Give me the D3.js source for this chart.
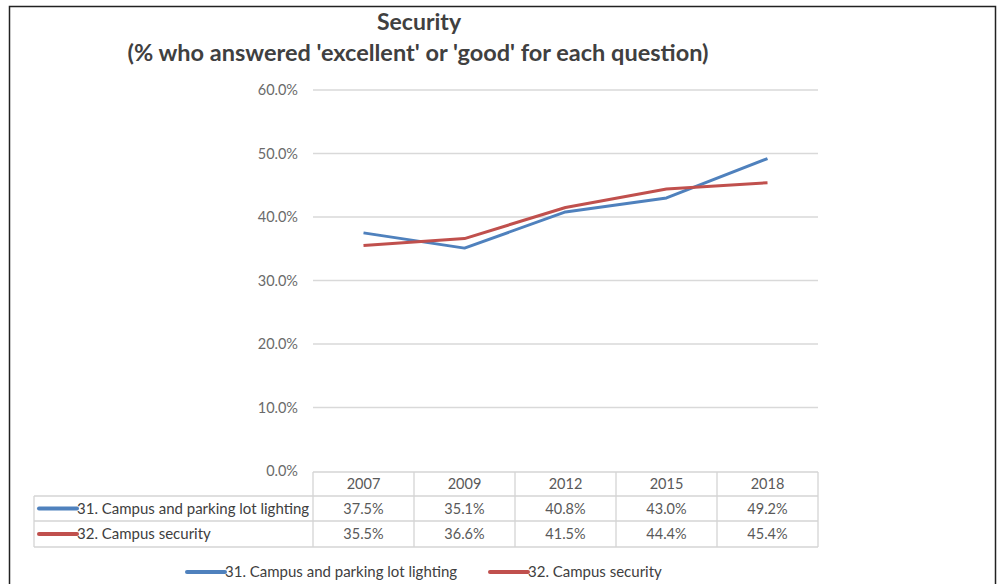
<!DOCTYPE html>
<html><head><meta charset="utf-8">
<script src="https://cdn.jsdelivr.net/npm/d3@7"></script>
<style>body{margin:0;background:#fff}svg{display:block}</style>
</head><body>
<svg id="c" width="1003" height="584"></svg>
<script>
const years = ["2007","2009","2012","2015","2018"];
const seriesNames = ["31. Campus and parking lot lighting","32. Campus security"];
const lighting = [37.5,35.1,40.8,43.0,49.2];
const security = [35.5,36.6,41.5,44.4,45.4];
const yTicks = [0,10,20,30,40,50,60];
const colors = ["#4F81BD","#C0504D"];
const allSeries = [lighting, security];

(function(){
const svg = d3.select("#c");
const font = "Lato, 'Open Sans', sans-serif";

// frame
svg.append("path").attr("d","M9.5,584 V6.5 H995.5 V584").attr("fill","none").attr("stroke","#222").attr("stroke-width",1.5);

const pL=313, pR=818, pT=90, pB=471;
const x = d3.scaleBand().domain(years).range([pL,pR]);
const y = d3.scaleLinear().domain([0,60]).range([pB,pT]);

// title
svg.append("text").attr("x",419).attr("y",30).attr("text-anchor","middle")
  .attr("font-family",font).attr("font-weight","bold").attr("font-size",23).attr("fill","#404040").text("Security");
svg.append("text").attr("x",418).attr("y",61).attr("text-anchor","middle")
  .attr("font-family",font).attr("font-weight","bold").attr("font-size",23.5).attr("fill","#404040")
  .text("(% who answered 'excellent' or 'good' for each question)");

// gridlines + y axis
const yAxis = d3.axisLeft(y).tickValues(yTicks).tickSize(0).tickPadding(15).tickFormat(d=>d.toFixed(1)+"%");
const ga = svg.append("g").attr("transform",`translate(${pL},0)`).call(yAxis);
ga.select(".domain").remove();
ga.selectAll("text").attr("font-family",font).attr("font-size",14.5).attr("fill","#6a6a6a");
svg.append("g").selectAll("line").data(yTicks.filter(d=>d>0)).join("line")
  .attr("x1",pL).attr("x2",pR).attr("y1",d=>y(d)).attr("y2",d=>y(d))
  .attr("stroke","#d9d9d9").attr("stroke-width",1.5);

// lines
const line = d3.line().x((d,i)=>x(years[i])+x.bandwidth()/2).y(d=>y(d));
allSeries.forEach((s,k)=>{
  svg.append("path").datum(s).attr("d",line).attr("fill","none")
    .attr("stroke",colors[k]).attr("stroke-width",3).attr("stroke-linejoin","round");
});

// data table
const rowTop=[472,496,521,547];
const labLeft=34;
const gridC="#d4d4d4";
const tg = svg.append("g");
tg.append("line").attr("x1",pL).attr("x2",pR).attr("y1",rowTop[0]).attr("y2",rowTop[0]).attr("stroke",gridC).attr("stroke-width",1.3);
[1,2,3].forEach(i=>tg.append("line").attr("x1",labLeft).attr("x2",pR).attr("y1",rowTop[i]).attr("y2",rowTop[i]).attr("stroke",gridC).attr("stroke-width",1.3));
tg.append("line").attr("x1",labLeft).attr("x2",labLeft).attr("y1",rowTop[1]).attr("y2",rowTop[3]).attr("stroke",gridC).attr("stroke-width",1.3);
years.concat(["end"]).forEach((yr,i)=>{
  const xx = i<years.length ? x(yr) : pR;
  tg.append("line").attr("x1",xx).attr("x2",xx).attr("y1",rowTop[0]).attr("y2",rowTop[3]).attr("stroke",gridC).attr("stroke-width",1.3);
});
tg.selectAll("text.h").data(years).join("text").attr("class","h")
  .attr("x",d=>x(d)+x.bandwidth()/2).attr("y",(rowTop[0]+rowTop[1])/2+5).attr("text-anchor","middle")
  .attr("font-family",font).attr("font-size",14.5).attr("fill","#595959").text(d=>d);
allSeries.forEach((s,k)=>{
  const cy=(rowTop[k+1]+rowTop[k+2])/2+5;
  tg.selectAll("text.v"+k).data(s).join("text").attr("class","v"+k)
    .attr("x",(d,i)=>x(years[i])+x.bandwidth()/2).attr("y",cy).attr("text-anchor","middle")
    .attr("font-family",font).attr("font-size",14.5).attr("fill","#595959").text(d=>d.toFixed(1)+"%");
  tg.append("line").attr("x1",39).attr("x2",77).attr("y1",cy-5).attr("y2",cy-5)
    .attr("stroke",colors[k]).attr("stroke-width",4).attr("stroke-linecap","round");
  tg.append("text").attr("x",77).attr("y",cy).attr("font-family",font).attr("font-size",15)
    .attr("fill","#404040").text(seriesNames[k]);
});

// legend
const legX=[187,490];
seriesNames.forEach((n,k)=>{
  svg.append("line").attr("x1",legX[k]).attr("x2",legX[k]+38).attr("y1",572).attr("y2",572)
    .attr("stroke",colors[k]).attr("stroke-width",4).attr("stroke-linecap","round");
  svg.append("text").attr("x",legX[k]+38).attr("y",577).attr("font-family",font).attr("font-size",15)
    .attr("fill","#404040").text(n);
});
})();
</script>
</body></html>
